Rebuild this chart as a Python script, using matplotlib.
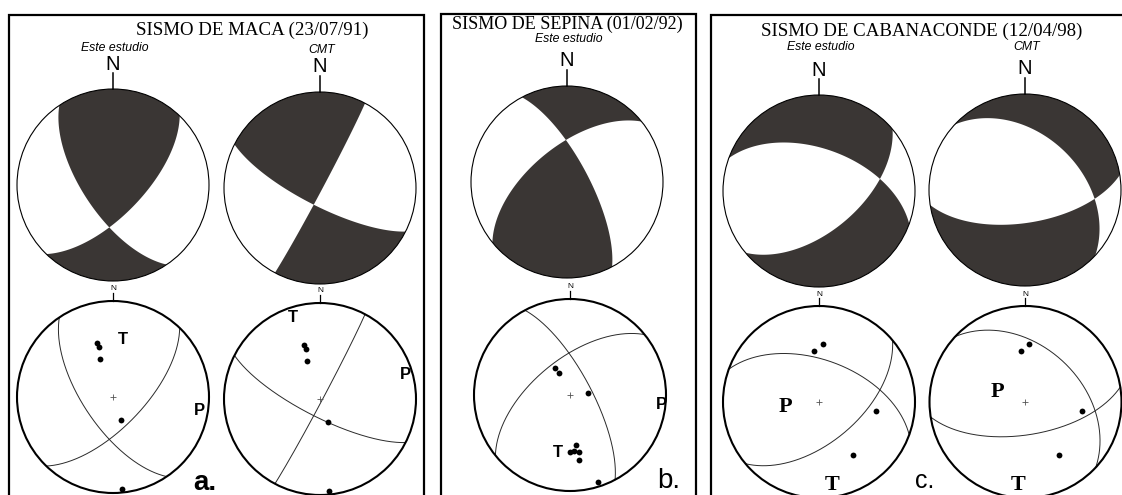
import numpy as np
import matplotlib
matplotlib.use("Agg")
import matplotlib.pyplot as plt
from matplotlib.patches import Circle

# ---------------- DATA ----------------
panel_titles = ["SISMO DE MACA (23/07/91)", "SISMO DE SEPINA (01/02/92)",
                "SISMO DE CABANACONDE (12/04/98)"]
panel_letters = ["a.", "b.", "c."]
captions = ["Este estudio", "CMT", "Este estudio", "Este estudio", "CMT"]

# nodal planes (strike, dip) for each mechanism
maca_est_planes = [(146, 65), (44, 65)]
maca_cmt_planes = [(28, 88), (117, 75)]
sepina_est_planes = [(332, 72), (231, 60)]
caba_est_planes = [(290, 54), (50, 56)]
caba_cmt_planes = [(313, 42), (81, 62)]

# P and T axes (trend, plunge)
maca_est_P, maca_est_T = (99, 10), (9.5, 39)
maca_cmt_P, maca_cmt_T = (74, 8), (341.5, 11)
sepina_est_P, sepina_est_T = (96, 5), (192, 39)
caba_est_P, caba_est_T = (262, 61), (171, 13)
caba_cmt_P, caba_cmt_T = (289, 65), (185, 14)

# station observations (trend, plunge)
maca_sta_trend = [344, 344, 341.5, 160.5, 174.4]
maca_sta_plunge = [41, 45, 55.5, 69, 3.8]
sepina_sta_trend = [331.5, 333.6, 84.6, 173.6, 180.3, 176.3, 171.4, 172, 162.1]
sepina_sta_plunge = [63.4, 68.7, 74.6, 46.3, 40.6, 40.8, 39.6, 31.8, 5.6]
caba_sta_trend = [3.6, 354.7, 99, 147.4]
caba_sta_plunge = [39.3, 45.7, 40.1, 35]

DARK = "#3a3634"

# ---------------- FIGURE ----------------
W, H = 1122, 495
fig = plt.figure(figsize=(W / 100, H / 100), dpi=100)
ax = fig.add_axes([0, 0, 1, 1])
ax.set_xlim(0, W)
ax.set_ylim(H, 0)
ax.axis("off")


def vec(trend, plunge):
    t, p = np.radians(trend), np.radians(plunge)
    return np.array([np.cos(p) * np.cos(t), np.cos(p) * np.sin(t), np.sin(p)])


def pole(strike, dip):
    return vec(strike + 270, 90 - dip)


def project(v):
    n, e, d = v
    s = np.sqrt(1 + d)
    return e / s, n / s


def great_circle(strike, dip):
    th = np.linspace(0, np.pi, 300)
    s = vec(strike, 0)
    dv = vec(strike + 90, dip)
    v = np.outer(s, np.cos(th)) + np.outer(dv, np.sin(th))
    return project(v)


def beachball(cx, cy, R, planes, T):
    u = np.linspace(-1.03, 1.03, 600)
    U, V = np.meshgrid(u, u)
    D = 1 - (U ** 2 + V ** 2)
    S = np.sqrt(np.clip(1 + D, 0, None))
    X = np.stack([V * S, U * S, D])
    p1, p2 = pole(*planes[0]), pole(*planes[1])
    f = np.tensordot(p1, X, 1) * np.tensordot(p2, X, 1)
    tv = vec(*T)
    f = f * np.sign((p1 @ tv) * (p2 @ tv))
    cs = ax.contourf(cx + R * U, cy - R * V, f, levels=[0, np.nanmax(f) + 1],
                     colors=[DARK], antialiased=True)
    cs.set_clip_path(Circle((cx, cy), R, transform=ax.transData))
    ax.add_patch(Circle((cx, cy), R, fill=False, lw=0.8, ec="black"))
    ax.plot([cx, cx], [cy - R - 16, cy - R], color="black", lw=1.1)
    ax.text(cx, cy - R - 25, "N", fontsize=14.5, ha="center", va="center",
            family="Liberation Sans")


def stereonet(cx, cy, R, planes, P, T, strs, pls, style):
    ax.add_patch(Circle((cx, cy), R, fill=False, lw=1.5, ec="black", zorder=3))
    for st, dp in planes:
        x, y = great_circle(st, dp)
        ax.plot(cx + R * x, cy - R * y, color="#2a2a2a", lw=0.7)
    x, y = project(vec(np.array(strs), np.array(pls)))
    ax.plot(cx + R * x, cy - R * y, "o", color="black", ms=4.2, mec="none", zorder=4)
    for lab, a_ in (("P", P), ("T", T)):
        x, y = project(vec(*a_))
        ax.text(cx + R * x, cy - R * y, lab, ha="center", va="center", zorder=5, **style)
    ax.plot([cx], [cy], marker="+", color="#555555", ms=5, mew=0.6)
    ax.plot([cx, cx], [cy - R - 8, cy - R], color="black", lw=0.9)
    ax.text(cx, cy - R - 12, "N", fontsize=6, ha="center", va="center",
            family="Liberation Sans")


# panel borders
borders = [(9, 424, 14.5), (441.5, 696.5, 13.7), (711.5, 1126, 14.7)]
for x0, x1, top in borders:
    ax.plot([x0, x0, x1, x1], [505, top, top, 505], color="black", lw=1.6,
            solid_joinstyle="miter")

# titles
title_pos = [(252, 30.5), (567, 24.5), (922, 31)]
title_size = [13.6, 13.0, 13.6]
for (tx, ty), t, fs in zip(title_pos, panel_titles, title_size):
    ax.text(tx, ty, t, fontsize=fs, ha="center", va="center", family="Liberation Serif")

sans_pt = dict(fontsize=12, fontweight="bold", family="Liberation Sans")
serif_pt = dict(fontsize=16, fontweight="bold", family="Liberation Serif")

mechs = [
    # upper center, lower center, planes, P, T, stations, style, caption y
    ((113, 185), (113, 397), maca_est_planes, maca_est_P, maca_est_T,
     maca_sta_trend, maca_sta_plunge, sans_pt, 48),
    ((320, 188), (320, 399), maca_cmt_planes, maca_cmt_P, maca_cmt_T,
     maca_sta_trend, maca_sta_plunge, sans_pt, 50),
    ((567, 182), (570, 395), sepina_est_planes, sepina_est_P, sepina_est_T,
     sepina_sta_trend, sepina_sta_plunge, sans_pt, 39),
    ((819, 191), (819, 402), caba_est_planes, caba_est_P, caba_est_T,
     caba_sta_trend, caba_sta_plunge, serif_pt, 47),
    ((1025, 190), (1025.5, 402), caba_cmt_planes, caba_cmt_P, caba_cmt_T,
     caba_sta_trend, caba_sta_plunge, serif_pt, 47),
]
for (uc, lc, planes, P, T, strs, pls, style, capy), cap in zip(mechs, captions):
    beachball(uc[0], uc[1], 96, planes, T)
    stereonet(lc[0], lc[1], 96, planes, P, T, strs, pls, style)
    ax.text(uc[0] + 2, capy, cap, fontsize=8.8, style="italic", ha="center",
            va="center", family="Liberation Sans")

# panel letters
ax.text(193, 490.5, panel_letters[0], fontsize=20, fontweight="bold", ha="left",
        va="baseline", family="Liberation Sans")
ax.text(657, 488, panel_letters[1], fontsize=20, ha="left", va="baseline",
        family="Liberation Sans")
ax.text(915, 488, panel_letters[2], fontsize=18, ha="left", va="baseline",
        family="Liberation Sans")

fig.savefig("out.png", dpi=100)
